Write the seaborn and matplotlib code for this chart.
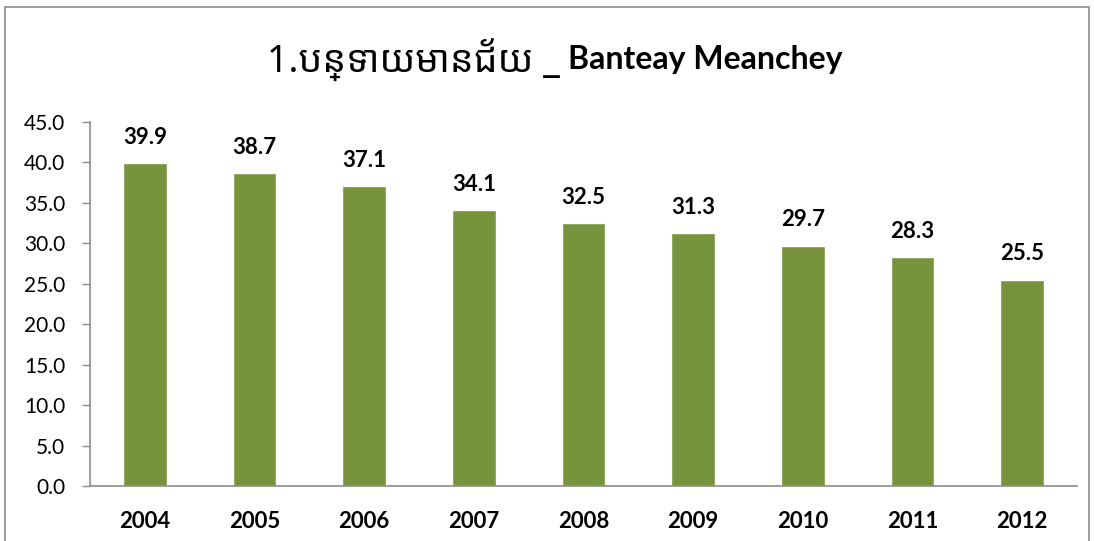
import numpy as np
import pandas as pd
import matplotlib
matplotlib.use("Agg")
import matplotlib.pyplot as plt
import seaborn as sns

years = ["2004", "2005", "2006", "2007", "2008", "2009", "2010", "2011", "2012"]
values = [39.9, 38.7, 37.1, 34.1, 32.5, 31.3, 29.7, 28.3, 25.5]
title_km = "1.បន្ទាយមានជ័យ _"
title_en = "Banteay Meanchey"

df = pd.DataFrame({"year": years, "value": values})

sns.set_style("white")
plt.rcParams["font.family"] = ["Lato", "Noto Sans Khmer", "DejaVu Sans"]
plt.rcParams["text.color"] = "black"
plt.rcParams["xtick.labelcolor"] = "black"
plt.rcParams["ytick.labelcolor"] = "black"

fig = plt.figure(figsize=(10.94, 5.41), dpi=100)
ax = fig.add_axes([0.0823, 0.1017, 0.9022, 0.6728])
sns.barplot(data=df, x="year", y="value", color="#77933C", width=0.4,
            saturation=1, ax=ax)

ax.set_ylim(0, 45)
ax.set_yticks(np.arange(0, 46, 5))
ax.set_yticklabels([f"{v:.1f}" for v in np.arange(0, 46, 5)], fontsize=15)
ax.set_xlim(-0.5, len(years) - 0.5)
ax.set_xticks(np.arange(-0.5, len(years)), minor=True)
ax.tick_params(axis="x", which="major", length=0, labelsize=16, pad=18)
ax.tick_params(axis="x", which="minor", length=6, width=1, color="#8c8c8c", direction="out")
ax.tick_params(axis="y", length=6, width=1, color="#8c8c8c", direction="out", left=True, pad=12)
for lab in ax.get_xticklabels():
    lab.set_fontweight("bold")
ax.set_xlabel("")
ax.set_ylabel("")
for s in ["top", "right"]:
    ax.spines[s].set_visible(False)
for s in ["left", "bottom"]:
    ax.spines[s].set_color("#8c8c8c")
    ax.spines[s].set_linewidth(1.2)

for i, v in enumerate(values):
    ax.annotate(f"{v:.1f}", (i, v), xytext=(0, 11), textcoords="offset points",
                ha="center", va="bottom", fontsize=16, fontweight="bold", color="black")

fig.text(560 / 1094, 1 - 60 / 541, title_km, ha="right", va="center", fontsize=27,
         family=["Noto Sans Khmer", "DejaVu Sans"], color="black")
fig.text(568 / 1094, 1 - 60 / 541, title_en, ha="left", va="center", fontsize=23,
         fontweight="bold", color="black")

border = plt.Rectangle((5 / 1094, -0.05), 1084 / 1094, 1 - 7 / 541 + 0.05,
                       transform=fig.transFigure, fill=False, edgecolor="#8c8c8c",
                       linewidth=1.2)
fig.patches.append(border)

fig.savefig("out.png", dpi=100)
